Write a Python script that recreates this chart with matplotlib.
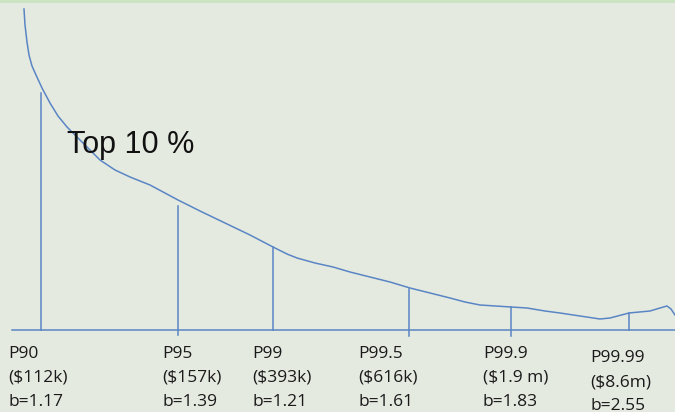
import matplotlib.pyplot as plt

# curve: x position, height above baseline
curve_x = [24, 25, 27, 29, 32, 36, 42, 50, 58, 67, 80, 100, 115, 130, 150, 178,
           200, 225, 250, 273, 287, 297, 315, 333, 350, 370, 390, 410, 430, 450,
           465, 480, 511, 527, 545, 560, 580, 600, 610, 629, 650, 660, 667, 671, 675]
curve_y = [321, 305, 288, 275, 264, 255, 242, 227, 214, 203, 190, 170, 160, 153, 145, 130,
           119, 107, 95, 83, 76, 72, 67, 63, 58, 53, 48, 42, 37, 32,
           28, 25, 23, 22, 19, 17, 14, 11, 12, 17, 19, 22, 24, 21, 15]

# percentile markers
pct_labels = ['P90', 'P95', 'P99', 'P99.5', 'P99.9', 'P99.99']
pct_income = ['($112k)', '($157k)', '($393k)', '($616k)', '($1.9 m)', '($8.6m)']
pct_b = ['b=1.17', 'b=1.39', 'b=1.21', 'b=1.61', 'b=1.83', 'b=2.55']
marker_x = [41, 178, 273, 409, 511, 629]
marker_h = [237, 124, 83, 41, 23, 17]
marker_below = [0, 5, 0, 6, 6, 0]
label_x = [8, 162, 252, 358, 483, 590]
label_drop = [0, 0, 0, 0, 0, 5]

blue = '#5a85c4'
bg = '#e5eae1'

fig = plt.figure(figsize=(6.75, 4.12), dpi=100)
fig.patch.set_facecolor(bg)
ax = fig.add_axes([0, 0, 1, 1])
ax.set_facecolor(bg)
ax.set_xlim(0, 675)
ax.set_ylim(-82, 330)
ax.axis('off')

# top edge strip
ax.axhline(329.5, color='#c9e4c1', lw=2)

ax.plot(curve_x, curve_y, color=blue, lw=1.1)
ax.plot([12, 675], [0, 0], color=blue, lw=1.1)

for x, h, below in zip(marker_x, marker_h, marker_below):
    ax.plot([x, x], [-below, h], color=blue, lw=1.1)

ax.text(67, 185, 'Top 10 %', fontsize=22, family='Liberation Sans',
        color='#111111', va='center', ha='left')

for lx, drop, a, b, c in zip(label_x, label_drop, pct_labels, pct_income, pct_b):
    for i, s in enumerate([a, b, c]):
        ax.text(lx, -23.5 - drop - i * 24, s, fontsize=12.5, family='Open Sans',
                color='#1a1a1a', va='center', ha='left')

fig.savefig('out.png', dpi=100, facecolor=bg)
